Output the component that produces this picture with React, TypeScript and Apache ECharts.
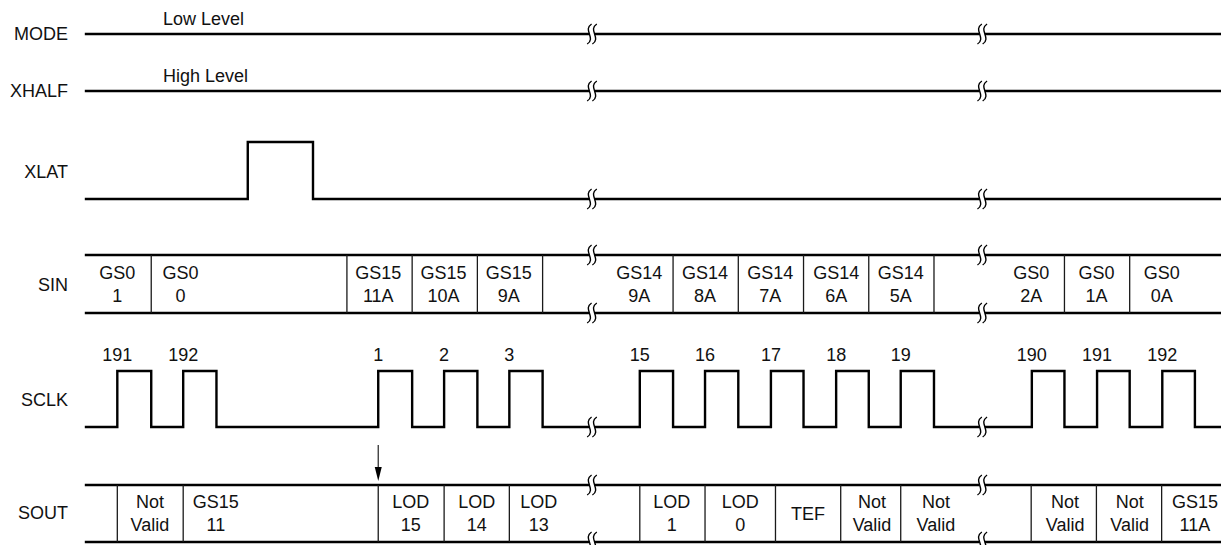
import React, { useEffect, useRef } from "react";
import * as echarts from "echarts";

// ---------- data ----------
const T_END = 17.4;
const BREAK_T = [7.757, 13.74];

const LANE_NAMES = ["MODE", "XHALF", "XLAT", "SIN", "SCLK", "SOUT"];
const LANE_LABEL_Y = [34, 91, 172, 285, 400, 513];

const MODE_Y = 34;
const XHALF_Y = 91;
const LEVEL_NOTES = ["Low Level", "High Level"];
const LEVEL_NOTE_T = [1.18, 1.18];
const LEVEL_NOTE_Y = [19, 76];

const XLAT_LOW = 199;
const XLAT_HIGH = 142;
const XLAT_RISE = 2.48;
const XLAT_FALL = 3.48;

const SIN_TOP = 255;
const SIN_BOTTOM = 313;
const SIN_BOUNDS = [1, 4, 5, 6, 7, 9, 10, 11, 12, 13, 15, 16];
const SIN_TEXT_T = [0.48, 1.45, 4.48, 5.48, 6.48, 8.48, 9.49, 10.49, 11.5, 12.49, 14.49, 15.49, 16.49];
const SIN_TEXT = [
  "GS0\n1", "GS0\n0", "GS15\n11A", "GS15\n10A", "GS15\n9A",
  "GS14\n9A", "GS14\n8A", "GS14\n7A", "GS14\n6A", "GS14\n5A",
  "GS0\n2A", "GS0\n1A", "GS0\n0A",
];

const SCLK_HIGH = 371;
const SCLK_LOW = 427;
const SCLK_RISE = [0.48, 1.49, 4.48, 5.49, 6.49, 8.49, 9.49, 10.5, 11.5, 12.49, 14.5, 15.5, 16.5];
const SCLK_FALL = [1, 2, 5, 6, 7, 9, 10, 11, 12, 13, 15, 16, 17];
const SCLK_LABELS = ["191", "192", "1", "2", "3", "15", "16", "17", "18", "19", "190", "191", "192"];
const SCLK_LABEL_Y = 355;

const SOUT_TOP = 485;
const SOUT_BOTTOM = 542;
const SOUT_BOUNDS = [0.48, 1.49, 4.48, 5.49, 6.49, 8.49, 9.49, 10.57, 11.57, 12.49, 14.49, 15.49, 16.49];
const SOUT_TEXT_T = [0.98, 1.99, 4.98, 5.99, 6.94, 8.98, 10.03, 11.07, 12.05, 13.03, 15.01, 16.0, 17.0];
const SOUT_TEXT = [
  "Not\nValid", "GS15\n11", "LOD\n15", "LOD\n14", "LOD\n13", "LOD\n1", "LOD\n0",
  "TEF", "Not\nValid", "Not\nValid", "Not\nValid", "Not\nValid", "GS15\n11A",
];

const ARROW_T = 4.48;
const ARROW_Y = [445, 481];

const BREAK_Y = [MODE_Y, XHALF_Y, XLAT_LOW, SIN_TOP, SIN_BOTTOM, SCLK_LOW, SOUT_TOP, SOUT_BOTTOM];

// ---------- chart ----------
const FONT = '"Liberation Sans", Arial, Helvetica, sans-serif';
const INK = "#000";
const TXT = "#111";

function lineSeries(data: number[][]) {
  return {
    type: "line",
    data,
    showSymbol: false,
    symbol: "none",
    clip: false,
    silent: true,
    lineStyle: { color: INK, width: 2.4, cap: "square", join: "miter" },
    z: 2,
  };
}

function textSeries(data: number[][], texts: string[], opts: any = {}) {
  return {
    type: "custom",
    data,
    silent: true,
    z: 10,
    renderItem: (params: any, api: any) => {
      const p = api.coord([api.value(0), api.value(1)]);
      return {
        type: "text",
        x: p[0] + (opts.dx || 0),
        y: p[1],
        style: {
          text: texts[params.dataIndex],
          fill: TXT,
          fontSize: 18,
          fontFamily: FONT,
          align: opts.align || "center",
          verticalAlign: "middle",
          lineHeight: 23,
        },
      };
    },
  };
}

export default function App() {
  const ref = useRef<HTMLDivElement>(null);

  useEffect(() => {
    if (!ref.current) return;
    const chart = echarts.init(ref.current, undefined, { renderer: "svg" });

    const modeData = [[0, MODE_Y], [T_END, MODE_Y]];
    const xhalfData = [[0, XHALF_Y], [T_END, XHALF_Y]];
    const xlatData = [
      [0, XLAT_LOW], [XLAT_RISE, XLAT_LOW], [XLAT_RISE, XLAT_HIGH],
      [XLAT_FALL, XLAT_HIGH], [XLAT_FALL, XLAT_LOW], [T_END, XLAT_LOW],
    ];
    const sclkData: number[][] = [[0, SCLK_LOW]];
    SCLK_RISE.forEach((r, i) => {
      const f = SCLK_FALL[i];
      sclkData.push([r, SCLK_LOW], [r, SCLK_HIGH], [f, SCLK_HIGH], [f, SCLK_LOW]);
    });
    sclkData.push([T_END, SCLK_LOW]);

    const dividers: number[][] = [
      ...SIN_BOUNDS.map((t) => [t, SIN_TOP, SIN_BOTTOM]),
      ...SOUT_BOUNDS.map((t) => [t, SOUT_TOP, SOUT_BOTTOM]),
    ];

    const breaks: number[][] = [];
    BREAK_T.forEach((t) => BREAK_Y.forEach((y) => breaks.push([t, y])));

    const stroke = (dx: number) => ({
      type: "bezierCurve",
      shape: {
        x1: dx + 2.2, y1: -10,
        cpx1: dx - 7, cpy1: -4,
        cpx2: dx + 7, cpy2: 4,
        x2: dx - 2.2, y2: 10,
      },
      style: { stroke: INK, fill: null, lineWidth: 1.4 },
    });

    const option: any = {
      animation: false,
      backgroundColor: "#fff",
      grid: { left: 86, right: 0, top: 0, bottom: 0, containLabel: false },
      xAxis: { type: "value", min: 0, max: T_END, show: false },
      yAxis: { type: "value", min: 0, max: 545, inverse: true, show: false },
      series: [
        lineSeries(modeData),
        lineSeries(xhalfData),
        lineSeries(xlatData),
        lineSeries([[0, SIN_TOP], [T_END, SIN_TOP]]),
        lineSeries([[0, SIN_BOTTOM], [T_END, SIN_BOTTOM]]),
        lineSeries(sclkData),
        lineSeries([[0, SOUT_TOP], [T_END, SOUT_TOP]]),
        lineSeries([[0, SOUT_BOTTOM], [T_END, SOUT_BOTTOM]]),
        {
          type: "custom",
          data: dividers,
          silent: true,
          z: 3,
          renderItem: (_p: any, api: any) => {
            const a = api.coord([api.value(0), api.value(1)]);
            const b = api.coord([api.value(0), api.value(2)]);
            return {
              type: "line",
              shape: { x1: a[0], y1: a[1], x2: b[0], y2: b[1] },
              style: { stroke: "#1a1a1a", lineWidth: 1.3 },
            };
          },
        },
        {
          type: "custom",
          data: breaks,
          silent: true,
          z: 6,
          renderItem: (_p: any, api: any) => {
            const p = api.coord([api.value(0), api.value(1)]);
            return {
              type: "group",
              x: p[0],
              y: p[1],
              children: [
                { type: "rect", shape: { x: -2.6, y: -2.6, width: 5.2, height: 5.2 }, style: { fill: "#fff" } },
                stroke(-2.6),
                stroke(2.6),
              ],
            };
          },
        },
        {
          type: "custom",
          data: [[ARROW_T, ARROW_Y[0], ARROW_Y[1]]],
          silent: true,
          z: 6,
          renderItem: (_p: any, api: any) => {
            const a = api.coord([api.value(0), api.value(1)]);
            const b = api.coord([api.value(0), api.value(2)]);
            return {
              type: "group",
              children: [
                {
                  type: "line",
                  shape: { x1: a[0], y1: a[1], x2: b[0], y2: b[1] - 10 },
                  style: { stroke: "#222", lineWidth: 1.2 },
                },
                {
                  type: "polygon",
                  shape: { points: [[b[0] - 3.5, b[1] - 14], [b[0] + 3.5, b[1] - 14], [b[0], b[1]]] },
                  style: { fill: "#000" },
                },
              ],
            };
          },
        },
        textSeries(LANE_LABEL_Y.map((y) => [0, y]), LANE_NAMES, { align: "right", dx: -18 }),
        textSeries(LEVEL_NOTE_T.map((t, i) => [t, LEVEL_NOTE_Y[i]]), LEVEL_NOTES, { align: "left" }),
        textSeries(SIN_TEXT_T.map((t) => [t, (SIN_TOP + SIN_BOTTOM) / 2]), SIN_TEXT),
        textSeries(SCLK_RISE.map((t) => [t, SCLK_LABEL_Y]), SCLK_LABELS),
        textSeries(SOUT_TEXT_T.map((t) => [t, (SOUT_TOP + SOUT_BOTTOM) / 2]), SOUT_TEXT),
      ],
    };

    chart.setOption(option);
    return () => chart.dispose();
  }, []);

  return (
    <div
      ref={ref}
      style={{ position: "fixed", left: 0, top: 0, width: 1221, height: 545, background: "#fff" }}
    />
  );
}
